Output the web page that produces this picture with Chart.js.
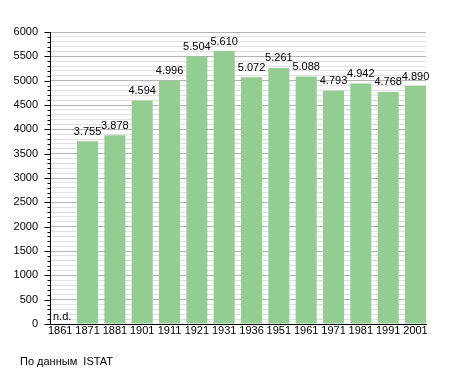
<!DOCTYPE html>
<html>
<head>
<meta charset="utf-8">
<script src="https://cdn.jsdelivr.net/npm/chart.js@4"></script>
<style>
  html, body { margin: 0; padding: 0; background: #fff; }
  #wrap { width: 455px; height: 373px; position: relative; }
</style>
</head>
<body>
<div id="wrap"><canvas id="popChart" width="455" height="373"></canvas></div>
<script>
const years = ['1861', '1871', '1881', '1901', '1911', '1921', '1931', '1936', '1951', '1961', '1971', '1981', '1991', '2001'];
const population = [null, 3755, 3878, 4594, 4996, 5504, 5610, 5072, 5261, 5088, 4793, 4942, 4768, 4890];
const yMax = 6000;
const sourceNote = 'По данным  ISTAT';

const FONT = 'Liberation Sans, Arial, sans-serif';

function fmt(v) {
    return String(v).replace(/\B(?=(\d{3})+(?!\d))/g, '.');
}

// labels on top of bars, "n.d." for missing values, axis tick marks, footer
const extras = {
    id: 'extras',
    afterDatasetsDraw(chart) {
        const ctx = chart.ctx;
        const yScale = chart.scales.y;
        const xScale = chart.scales.x;
        ctx.save();
        ctx.font = '11px ' + FONT;
        ctx.fillStyle = '#000';
        ctx.textAlign = 'center';
        ctx.textBaseline = 'bottom';
        population.forEach((v, i) => {
            if (v === null) {
                ctx.textAlign = 'left';
                ctx.fillText('n.d.', xScale.left + 3, yScale.bottom - 2);
                ctx.textAlign = 'center';
                return;
            }
            ctx.fillText(fmt(v), xScale.getPixelForValue(i), yScale.getPixelForValue(v) - 4);
        });

        // tick marks on the y axis
        ctx.strokeStyle = '#000';
        ctx.lineWidth = 1;
        const ax = Math.round(yScale.right) + 0.5;
        for (let v = 0; v <= yMax; v += 100) {
            const y = Math.round(yScale.getPixelForValue(v)) + 0.5;
            const len = v % 500 === 0 ? 6 : 3;
            ctx.beginPath();
            ctx.moveTo(ax - len, y);
            ctx.lineTo(ax, y);
            ctx.stroke();
        }

        ctx.textAlign = 'left';
        ctx.textBaseline = 'middle';
        ctx.fillText(sourceNote, 20, 362);
        ctx.restore();
    }
};

new Chart(document.getElementById('popChart'), {
    type: 'bar',
    data: {
        datasets: [{
            data: population.map((v, i) => ({ x: i, y: v })),
            backgroundColor: '#94cd92',
            borderWidth: 0,
            barPercentage: 0.77,
            categoryPercentage: 1
        }]
    },
    options: {
        responsive: false,
        animation: false,
        devicePixelRatio: 1,
        layout: { padding: { top: 32, right: 29, bottom: 0, left: 0 } },
        plugins: {
            legend: { display: false },
            tooltip: { enabled: false }
        },
        scales: {
            x: {
                type: 'linear',
                min: -0.374,
                max: 13.384,
                offset: false,
                grid: { display: false, drawTicks: false },
                border: { color: '#000', width: 1 },
                afterBuildTicks(scale) {
                    scale.ticks = years.map((y, i) => ({ value: i }));
                },
                ticks: {
                    color: '#000',
                    font: { family: FONT, size: 11 },
                    padding: 0,
                    maxRotation: 0,
                    autoSkip: false,
                    callback: v => years[v]
                },
                afterFit(scale) { scale.height = 49; }
            },
            y: {
                min: 0,
                max: yMax,
                grid: {
                    drawTicks: false,
                    color: ctx => (ctx.tick && ctx.tick.value % 500 === 0) ? '#b4b4b4' : '#e0e0e0'
                },
                border: { color: '#000', width: 1 },
                ticks: {
                    stepSize: 100,
                    autoSkip: false,
                    padding: 12,
                    color: '#000',
                    font: { family: FONT, size: 11 },
                    callback: v => v % 500 === 0 ? v : ''
                },
                afterFit(scale) { scale.width = 50; }
            }
        }
    },
    plugins: [extras]
});
</script>
</body>
</html>
